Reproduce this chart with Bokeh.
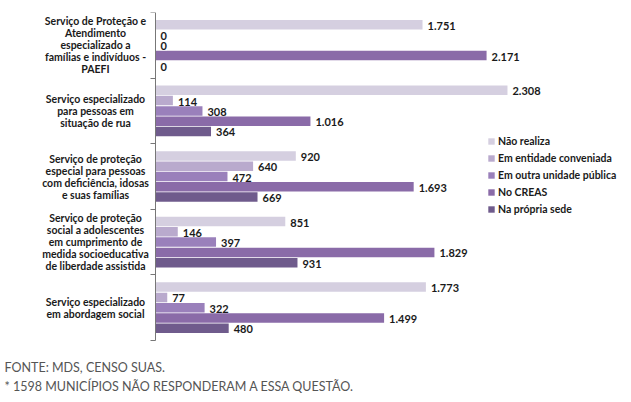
from bokeh.plotting import figure
from bokeh.models import (Range1d, FixedTicker, ColumnDataSource, LinearAxis,
                          LabelSet, Label, Legend, LegendItem)
from bokeh.core.properties import value
from bokeh.transform import dodge
from bokeh.embed import file_html
from bokeh.resources import INLINE

# ---- data (top to bottom as in the chart) ----
categories = [
    "Serviço de Proteção e\nAtendimento\nespecializado a\nfamílias e indivíduos -\nPAEFI",
    "Serviço especializado\npara pessoas em\nsituação de rua",
    "Serviço de proteção\nespecial para pessoas\ncom deficiência, idosas\ne suas famílias",
    "Serviço de proteção\nsocial a adolescentes\nem cumprimento de\nmedida socioeducativa\nde liberdade assistida",
    "Serviço especializado\nem abordagem social",
]
series = ["Não realiza", "Em entidade conveniada", "Em outra unidade pública", "No CREAS", "Na própria sede"]
nao_realiza = [1751, 2308, 920, 851, 1773]
entidade_conveniada = [0, 114, 640, 146, 77]
outra_unidade = [0, 308, 472, 397, 322]
no_creas = [2171, 1016, 1693, 1829, 1499]
propria_sede = [0, 364, 669, 931, 480]
values = [nao_realiza, entidade_conveniada, outra_unidade, no_creas, propria_sede]
colors = ["#d5cfe0", "#b9aacd", "#9a80bb", "#8a6ba8", "#6f5b8c"]
footnote1 = "FONTE: MDS, CENSO SUAS."
footnote2 = "* 1598 MUNICÍPIOS NÃO RESPONDERAM A ESSA QUESTÃO."

FONT = "Lato"
n = len(categories)

# ---- layout constants (pixels) ----
W, H = 622, 394
TOP = 12            # frame top
AXIS_X = 155        # pixel position of value 0
CAT_PX = 65.6       # pixels per category slot
PX_PER_UNIT = 0.1525
LINE_H = 12         # line spacing of category labels

def fmt(v):
    return f"{v:,}".replace(",", ".")

pos = [n - 0.5 - k for k in range(n)]
data = {"cat": categories, "pos": pos}
for i, vals in enumerate(values):
    data[f"v{i}"] = vals
    data[f"t{i}"] = [fmt(v) for v in vals]
src = ColumnDataSource(data)

# one row per line of each category label (each line centred on its own)
ln = {"x": [], "y": [], "yoff": [], "text": []}
for k, cat in enumerate(categories):
    lines = cat.split("\n")
    for j, t in enumerate(lines):
        ln["x"].append(0)
        ln["y"].append(pos[k])
        ln["yoff"].append(((len(lines) - 1) / 2 - j) * LINE_H)
        ln["text"].append(t)
line_src = ColumnDataSource(ln)

x_start = -AXIS_X / PX_PER_UNIT
x_end = (W - AXIS_X) / PX_PER_UNIT
y_start = n - (H - TOP) / CAT_PX

p = figure(width=W, height=H, y_range=Range1d(y_start, n), x_range=Range1d(x_start, x_end),
           x_axis_location=None, y_axis_location=None,
           output_backend="svg", toolbar_location=None,
           min_border_left=0, min_border_right=0, min_border_top=TOP, min_border_bottom=0)
p.grid.visible = False
p.outline_line_color = None
p.background_fill_color = "white"
p.border_fill_color = "white"

# vertical axis at value 0, ticks at category boundaries pointing left
ticks = list(range(n + 1))
ax = LinearAxis(fixed_location=0, bounds=(0, n), ticker=FixedTicker(ticks=ticks),
                major_label_overrides={t: "" for t in ticks}, major_label_standoff=0,
                major_tick_out=0, major_tick_in=5, minor_tick_out=0, minor_tick_in=0,
                axis_line_color="#777777", major_tick_line_color="#777777")
p.add_layout(ax, "right")

step = 0.157
items = []
for i, name in enumerate(series):
    off = (2 - i) * step
    r = p.hbar(y=dodge("pos", off), right=f"v{i}", left=0, height=step - 0.012,
               fill_color=colors[i], line_color=None, source=src)
    items.append(LegendItem(label=name, renderers=[r]))
    ls = LabelSet(x=f"v{i}", y=dodge("pos", off), text=f"t{i}", source=src,
                  x_offset=5, y_offset=-1, text_baseline="middle", text_align="left",
                  text_font=value(FONT), text_font_size="11px", text_font_style="bold",
                  text_color="#1a1a1a", background_fill_color="white")
    p.add_layout(ls)

legend = Legend(items=items, location=(487, H - 217), glyph_width=8, glyph_height=8, label_height=17,
                spacing=0, padding=0, margin=0, label_standoff=3, background_fill_alpha=0,
                border_line_color=None, label_text_font=FONT, label_text_font_size="10.5px",
                label_text_font_style="bold", label_text_color="#1a1a1a")
p.add_layout(legend)

cat_labels = LabelSet(x="x", y="y", y_offset="yoff", text="text", source=line_src, x_offset=-60,
                      text_align="center", text_baseline="middle", text_font=value(FONT),
                      text_font_size="10.5px", text_font_style="bold", text_color="#1a1a1a")
p.add_layout(cat_labels)

p.add_layout(Label(x=x_start, y=0, x_offset=4, y_offset=-27, text=footnote1,
                   text_align="left", text_baseline="middle", text_font=FONT,
                   text_font_size="12.5px", text_color="#555555"))
p.add_layout(Label(x=x_start, y=0, x_offset=4, y_offset=-46, text=footnote2,
                   text_align="left", text_baseline="middle", text_font=FONT,
                   text_font_size="12.5px", text_color="#555555"))

open("out.html", "w").write(file_html(p, INLINE))
